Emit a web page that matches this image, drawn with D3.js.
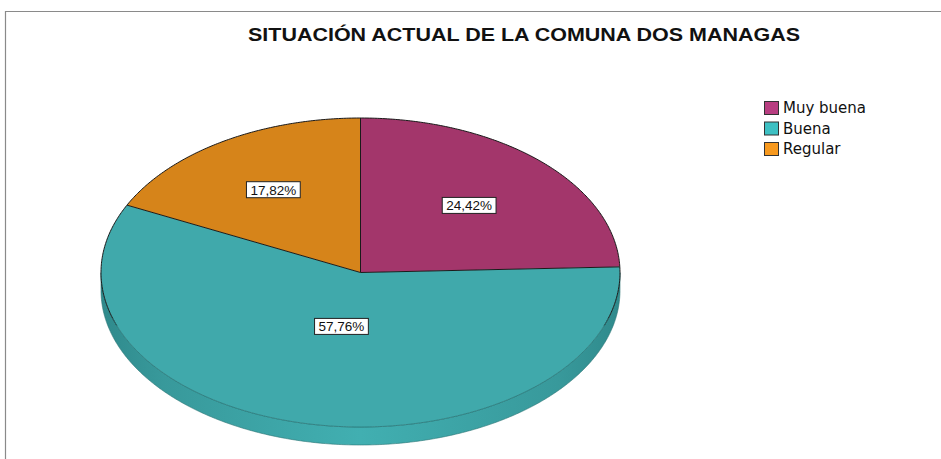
<!DOCTYPE html>
<html><head><meta charset="utf-8">
<script src="https://cdn.jsdelivr.net/npm/d3@7"></script>
<style>html,body{margin:0;padding:0;background:#fff;overflow:hidden}</style>
</head><body>
<svg id="chart" width="941" height="459"></svg>
<script>
const title = "SITUACIÓN ACTUAL DE LA COMUNA DOS MANAGAS";
const categories = ["Muy buena", "Buena", "Regular"];
const values = [24.42, 57.76, 17.82];
const labels = ["24,42%", "57,76%", "17,82%"];
const faceColors = ["#A3366B", "#40A9AB", "#D6841A"];
const legendColors = ["#B83E81", "#3DC0C3", "#F7991E"];

const svg = d3.select("#chart");
// frame
svg.append("path").attr("d", "M5.5,470 L5.5,11.5 L950,11.5")
  .attr("fill", "none").attr("stroke", "#8a8a8a").attr("stroke-width", 1.2);

svg.append("text").attr("x", 524).attr("y", 41).attr("text-anchor", "middle")
  .attr("font-family", "Liberation Sans, Arial, sans-serif").attr("font-weight", "bold")
  .attr("font-size", 18).attr("textLength", 552).attr("lengthAdjust", "spacingAndGlyphs")
  .attr("fill", "#111").text(title);

const cx = 360.5, cy = 272.5, rx = 259.5, ry = 154.5, depth = 18;
const pie = d3.pie().sort(null).value(d => d)(values);
const rScale = d3.scaleLinear().domain([0, 1]).range([0, 1]);
const pt = (a, f = 1, dy = 0) => [cx + rx * rScale(f) * Math.sin(a), cy - ry * rScale(f) * Math.cos(a) + dy];
const line = d3.line();
function arcPts(a0, a1, dy = 0) {
  const n = Math.max(2, Math.ceil((a1 - a0) / 0.01));
  return d3.range(n + 1).map(i => pt(a0 + (a1 - a0) * i / n, 1, dy));
}

// gradient for side
const defs = svg.append("defs");
const g = defs.append("linearGradient").attr("id", "side").attr("gradientUnits", "userSpaceOnUse")
  .attr("x1", cx - rx).attr("x2", cx + rx).attr("y1", 0).attr("y2", 0);
[[0, "#2f8a8c"], [0.12, "#38999b"], [0.5, "#41afb1"], [0.88, "#38999b"], [1, "#2f8a8c"]]
  .forEach(([o, c]) => g.append("stop").attr("offset", o).attr("stop-color", c));

// sides (visible between PI/2 and 3PI/2)
pie.forEach((d, i) => {
  const a0 = Math.max(d.startAngle, Math.PI / 2), a1 = Math.min(d.endAngle, 3 * Math.PI / 2);
  if (a1 <= a0) return;
  const top = arcPts(a0, a1), bot = arcPts(a0, a1, depth).reverse();
  svg.append("path").attr("d", line(top.concat(bot)) + "Z")
    .attr("fill", i === 1 ? "url(#side)" : d3.color(faceColors[i]).darker(0.4))
    .attr("stroke", "#2b7374").attr("stroke-width", 0.6);
});

// top faces
pie.forEach((d, i) => {
  const p = [[cx, cy]].concat(arcPts(d.startAngle, d.endAngle));
  svg.append("path").attr("d", line(p) + "Z").attr("fill", faceColors[i]).attr("stroke", "none");
});
// outlines: radial edges + back rim dark, front rim subtle
pie.forEach(d => {
  svg.append("path").attr("d", line([[cx, cy], pt(d.startAngle)]))
    .attr("stroke", "#1a1a1a").attr("stroke-width", 1).attr("fill", "none");
});
svg.append("path").attr("d", line(arcPts(-Math.PI / 2 - 0.35, Math.PI / 2 + 0.35)))
  .attr("stroke", "#1a1a1a").attr("stroke-width", 1).attr("fill", "none");
svg.append("path").attr("d", line(arcPts(Math.PI / 2 + 0.3, 3 * Math.PI / 2 - 0.3)))
  .attr("stroke", "#2c7a7b").attr("stroke-width", 0.8).attr("fill", "none");

// labels at sector centroid
pie.forEach((d, i) => {
  const half = (d.endAngle - d.startAngle) / 2;
  const f = 2 * Math.sin(half) / (3 * half);
  const [x, y] = pt(d.startAngle + half, f);
  const t = svg.append("text").attr("x", x).attr("y", y + 5).attr("text-anchor", "middle")
    .attr("font-family", "Liberation Sans, Arial, sans-serif").attr("font-size", 13.5)
    .attr("fill", "#111").text(labels[i]);
  const w = t.node().getComputedTextLength() + 8;
  svg.insert("rect", () => t.node()).attr("x", x - w / 2).attr("y", y - 8)
    .attr("width", w).attr("height", 16).attr("fill", "#fff").attr("stroke", "#222").attr("stroke-width", 1);
});

// legend
const lg = svg.append("g");
categories.forEach((c, i) => {
  const y = 101 + i * 20.5;
  lg.append("rect").attr("x", 764.5).attr("y", y + 0.5).attr("width", 14).attr("height", 13)
    .attr("fill", legendColors[i]).attr("stroke", "#333").attr("stroke-width", 1);
  lg.append("text").attr("x", 783).attr("y", y + 12).attr("font-family", "DejaVu Sans, sans-serif")
    .attr("font-size", 15).attr("fill", "#111").text(c);
});
</script>
</body></html>
